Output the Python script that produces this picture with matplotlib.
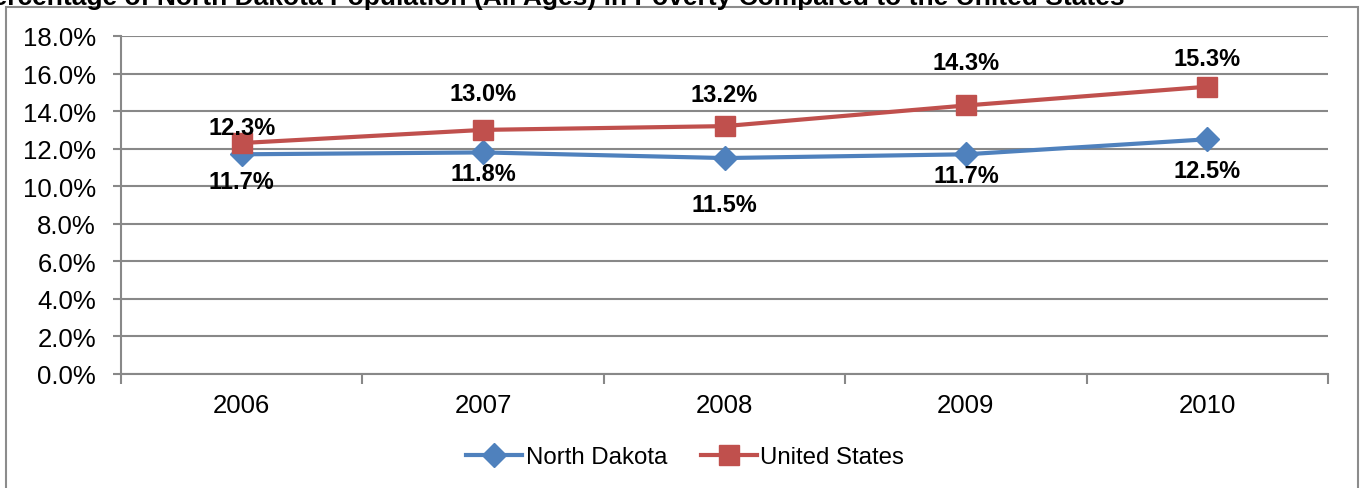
import matplotlib.pyplot as plt
from matplotlib.patches import Rectangle
from matplotlib.ticker import FuncFormatter

plt.rcParams['font.family'] = ['Liberation Sans', 'DejaVu Sans']

years = ['2006', '2007', '2008', '2009', '2010']
north_dakota = [11.7, 11.8, 11.5, 11.7, 12.5]
united_states = [12.3, 13.0, 13.2, 14.3, 15.3]

# label offsets in pixels (manually placed in the original)
nd_offsets = [-27, -21, -46, -21, -31]
us_offsets = [16, 36, 32, 43, 28]

blue = '#4F81BD'
red = '#C0504D'
grid_col = '#888888'

fig = plt.figure(figsize=(13.62, 4.89), dpi=100)
ax = fig.add_axes([121 / 1362, 1 - 375 / 489, (1328 - 121) / 1362, (375 - 37) / 489])

# outer chart border
fig.patches.append(Rectangle((6 / 1362, -0.05), (1358 - 6) / 1362, 1.05 - 8 / 489,
                             transform=fig.transFigure, fill=False,
                             edgecolor='#8c8c8c', linewidth=1.5))

# title, cut off at the top like the source
fig.text(1125 / 1362, 1 - 5 / 489,
         'Percentage of North Dakota Population (All Ages) in Poverty Compared to the United States',
         ha='right', va='baseline', fontsize=19.0, fontweight='bold')

x = list(range(len(years)))
ax.plot(x, north_dakota, color=blue, linewidth=3, marker='D', markersize=12,
        label='North Dakota', zorder=3)
ax.plot(x, united_states, color=red, linewidth=3, marker='s', markersize=14,
        label='United States', zorder=3)

for i in x:
    ax.annotate(f'{north_dakota[i]:.1f}%', (i, north_dakota[i]),
                xytext=(0, nd_offsets[i] * 0.72), textcoords='offset points',
                ha='center', va='center', fontsize=17, fontweight='bold')
    ax.annotate(f'{united_states[i]:.1f}%', (i, united_states[i]),
                xytext=(0, us_offsets[i] * 0.72), textcoords='offset points',
                ha='center', va='center', fontsize=17, fontweight='bold')

ax.set_xlim(-0.5, 4.5)
ax.set_ylim(0, 18)
ax.set_yticks(range(0, 19, 2))
ax.yaxis.set_major_formatter(FuncFormatter(lambda v, p: f'{v:.1f}%'))
ax.grid(axis='y', color=grid_col, linewidth=1.5)
ax.set_axisbelow(True)

ax.set_xticks([i - 0.5 for i in range(len(years) + 1)])
ax.set_xticklabels([])
ax.set_xticks(x, minor=True)
ax.set_xticklabels(years, minor=True)
ax.tick_params(axis='x', which='major', length=7, width=1.5, color=grid_col)
ax.tick_params(axis='x', which='minor', length=0, pad=14, labelsize=18.5)
ax.tick_params(axis='y', length=6, width=1.5, color=grid_col, labelsize=18.5, pad=12)

for s in ['top', 'right']:
    ax.spines[s].set_visible(False)
for s in ['left', 'bottom']:
    ax.spines[s].set_color(grid_col)
    ax.spines[s].set_linewidth(1.5)

fig.legend(loc='center', bbox_to_anchor=(685 / 1362, 1 - 458 / 489), ncol=2,
           frameon=False, fontsize=17.3, handlelength=2.33, handletextpad=0.15,
           columnspacing=1.4)

fig.savefig('out.png', dpi=100)
